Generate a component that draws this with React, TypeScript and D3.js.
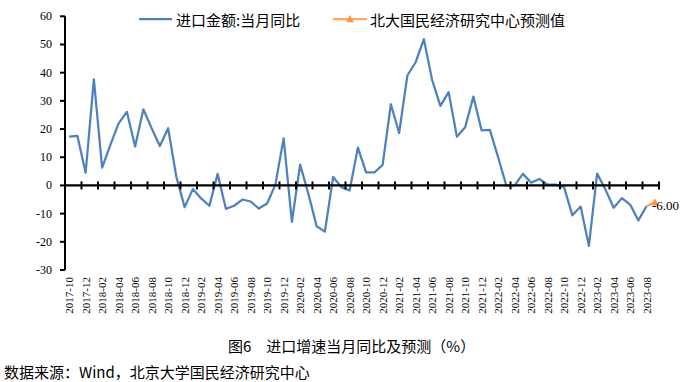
import React from "react";
import * as d3 from "d3";

const months: string[] = (() => {
  const out: string[] = [];
  let y = 2017, m = 10;
  for (let i = 0; i < 72; i++) {
    out.push(`${y}-${String(m).padStart(2, "0")}`);
    m++;
    if (m > 12) { m = 1; y++; }
  }
  return out;
})();

const importYoY: number[] = [
  17.3, 17.6, 4.5, 37.6, 6.3, 14.4, 22.0, 26.1, 13.8, 27.0, 20.3, 14.0,
  20.3, 3.0, -7.7, -1.3, -4.6, -7.2, 4.1, -8.3, -7.2, -5.0, -5.7, -8.2,
  -6.4, 0.3, 16.7, -12.9, 7.4, -3.0, -14.5, -16.4, 3.0, -0.6, -1.8, 13.4,
  4.6, 4.6, 7.3, 28.8, 18.6, 39.0, 43.7, 51.9, 37.4, 28.2, 33.1, 17.3,
  20.6, 31.5, 19.5, 19.7, 10.0, -0.1, 0.0, 4.1, 1.0, 2.3, 0.3, 0.3,
  -0.7, -10.6, -7.5, -21.4, 4.2, -1.4, -7.9, -4.5, -6.8, -12.4, -7.3,
];

const forecastMonths = ["2023-08", "2023-09"];
const forecastValues = [-7.3, -6.0];

const yTicks = [-30, -20, -10, 0, 10, 20, 30, 40, 50, 60];

const legendLabels = ["进口金额:当月同比", "北大国民经济研究中心预测值"];
const captionText = "图6　进口增速当月同比及预测（%）";
const sourceText = "数据来源：Wind，北京大学国民经济研究中心";

const BLUE = "#4F81BD";
const ORANGE_LINE = "#F9A868";
const ORANGE = "#F79646";
const SERIF = "'Liberation Serif', 'Times New Roman', serif";
const CJK = "'Noto Sans CJK SC', 'Noto Sans', sans-serif";

export default function App() {
  const W = 689, H = 382;
  const x = d3.scaleBand<string>().domain(months).range([65, 659]).padding(0);
  const y = d3.scaleLinear().domain([-30, 60]).range([270, 16.3]);
  const cx = (m: string) => (x(m) as number) + x.bandwidth() / 2;

  const line = d3.line<number>()
    .x((_, i) => cx(months[i]))
    .y((d) => y(d));

  const fLine = d3.line<number>()
    .x((_, i) => cx(forecastMonths[i]))
    .y((d) => y(d));

  const y0 = y(0);
  const bw = x.bandwidth();
  const tickXs = d3.range(1, 37).map((k) => 65 + 2 * k * bw);
  const labelMonths = months.filter((_, i) => i % 2 === 0 && i < 71);

  const tri = (px: number, py: number, s: number) =>
    `M${px},${py - s}L${px + s},${py + s * 0.8}L${px - s},${py + s * 0.8}Z`;

  const lastF = forecastValues[forecastValues.length - 1];
  const lastFx = cx(forecastMonths[forecastMonths.length - 1]);

  return (
    <svg width={W} height={H} style={{ position: "absolute", left: 0, top: 0, background: "#fff" }}>
      <rect x={0} y={0} width={W} height={H} fill="#fff" />
      {/* y axis */}
      <line x1={65} x2={65} y1={y(60)} y2={y(-30)} stroke="#000" strokeWidth={2} />
      {yTicks.map((t) => (
        <g key={t}>
          <line x1={60} x2={65} y1={y(t)} y2={y(t)} stroke="#000" strokeWidth={2} />
          <text x={52} y={y(t)} textAnchor="end" dominantBaseline="central"
            fontFamily={SERIF} fontSize={12} fill="#000">{t}</text>
        </g>
      ))}
      {/* series */}
      <path d={line(importYoY) || ""} fill="none" stroke={BLUE} strokeWidth={2.25} strokeLinejoin="round" />
      {/* x axis at zero */}
      <line x1={65} x2={659} y1={y0} y2={y0} stroke="#000" strokeWidth={2.25} />
      {tickXs.map((tx, i) => (
        <line key={i} x1={tx} x2={tx} y1={y0 - 4} y2={y0 + 4} stroke="#000" strokeWidth={2} />
      ))}
      {labelMonths.map((m) => (
        <text key={m} transform={`translate(${cx(m)},277) rotate(-90)`} textAnchor="end"
          dominantBaseline="central" fontFamily={SERIF} fontSize={11} fill="#000">{m}</text>
      ))}
      {/* forecast */}
      <path d={fLine(forecastValues) || ""} fill="none" stroke={ORANGE_LINE} strokeWidth={2.25} />
      <path d={tri(lastFx, y(lastF), 4)} fill={ORANGE} />
      <text x={lastFx - 3} y={y(lastF) + 3} dominantBaseline="central" fontFamily={SERIF}
        fontSize={13} fill="#000">{lastF.toFixed(2)}</text>
      {/* legend */}
      <line x1={139} x2={172} y1={19} y2={19} stroke={BLUE} strokeWidth={2.25} />
      <text x={176} y={19.5} dominantBaseline="central" fontFamily={CJK} fontSize={15} fill="#000">{legendLabels[0]}</text>
      <line x1={333} x2={367} y1={19} y2={19} stroke={ORANGE_LINE} strokeWidth={2.25} />
      <path d={tri(350, 19, 4)} fill={ORANGE} />
      <text x={370} y={19.5} dominantBaseline="central" fontFamily={CJK} fontSize={15} fill="#000">{legendLabels[1]}</text>
      {/* caption */}
      <text x={228} y={345} dominantBaseline="central" fontFamily={CJK} fontSize={15} fill="#000">{captionText}</text>
      <text x={4} y={371} dominantBaseline="central" fontFamily={CJK} fontSize={15} fill="#000">{sourceText}</text>
    </svg>
  );
}
